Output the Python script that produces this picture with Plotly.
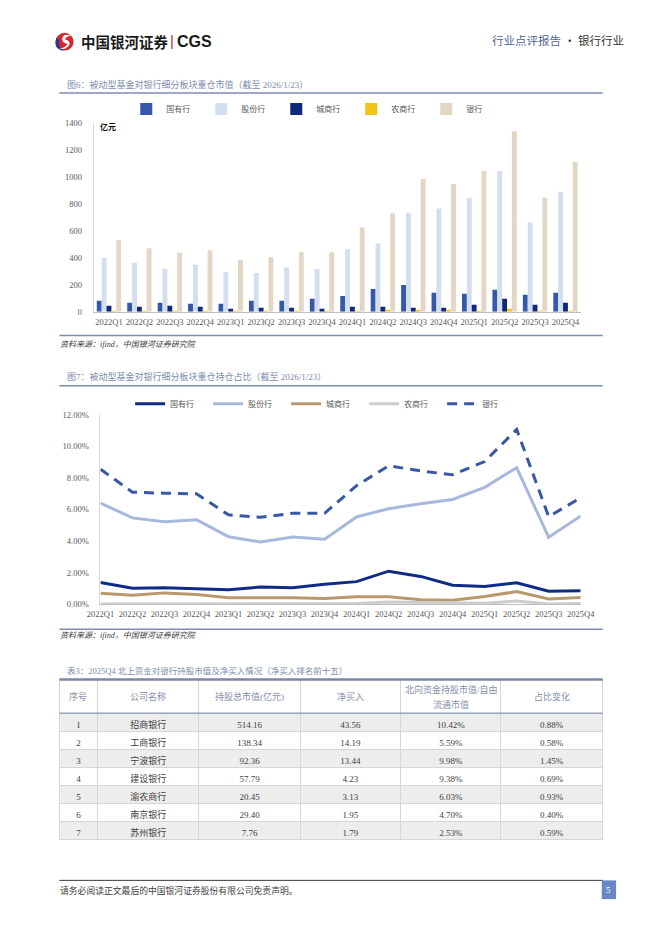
import plotly.graph_objects as go

# figure is sized to fit inside the 662x936 window together with the page margin
FW, FH = 646, 910
def X(sx): return (sx - 8) / FW
def Y(sy): return 1 - (sy - 8) / FH

# ---------------- data ----------------
quarters = ['2022Q1', '2022Q2', '2022Q3', '2022Q4', '2023Q1', '2023Q2', '2023Q3', '2023Q4',
            '2024Q1', '2024Q2', '2024Q3', '2024Q4', '2025Q1', '2025Q2', '2025Q3', '2025Q4']

# 图6 重仓市值（亿元）
mv_guoyou = [81, 66, 66, 59, 59, 81, 81, 95, 117, 169, 198, 140, 132, 162, 125, 140]
mv_gufen = [397, 362, 318, 348, 294, 286, 330, 316, 463, 507, 734, 764, 845, 1043, 661, 889]
mv_chengshang = [44, 37, 44, 37, 22, 29, 29, 22, 37, 37, 29, 29, 51, 95, 51, 66]
mv_nongshang = [2, 2, 2, 2, 2, 2, 2, 2, 4, 10, 10, 7, 5, 22, 2, 5]
mv_yinhang = [529, 470, 436, 455, 382, 404, 440, 440, 624, 730, 984, 947, 1043, 1337, 845, 1109]

# 图7 重仓持仓占比（%）
pct_guoyou = [1.39, 1.02, 1.06, 1.00, 0.92, 1.10, 1.06, 1.27, 1.44, 2.10, 1.77, 1.21, 1.14, 1.37, 0.83, 0.87]
pct_gufen = [6.41, 5.47, 5.22, 5.35, 4.28, 3.95, 4.26, 4.12, 5.53, 6.05, 6.36, 6.63, 7.40, 8.65, 4.24, 5.59]
pct_chengshang = [0.71, 0.58, 0.73, 0.62, 0.42, 0.44, 0.42, 0.37, 0.48, 0.48, 0.29, 0.27, 0.50, 0.81, 0.35, 0.44]
pct_nongshang = [0.03, 0.03, 0.04, 0.04, 0.03, 0.03, 0.04, 0.03, 0.06, 0.15, 0.12, 0.10, 0.08, 0.21, 0.03, 0.06]
pct_yinhang = [8.55, 7.09, 7.03, 6.99, 5.66, 5.51, 5.76, 5.76, 7.51, 8.76, 8.44, 8.19, 9.03, 11.06, 5.55, 6.74]

bar_ticks = [0, 200, 400, 600, 800, 1000, 1200, 1400]
pct_ticks = [0, 2, 4, 6, 8, 10, 12]
pct_ticktext = [f'{v:.2f}%' for v in pct_ticks]

# 表3
tbl_headers = ['序号', '公司名称', '持股总市值(亿元)', '净买入', '北向资金持股市值/自由', '占比变化']
tbl_header_line2 = ['', '', '', '', '流通市值', '']
tbl_no = ['1', '2', '3', '4', '5', '6', '7']
tbl_name = ['招商银行', '工商银行', '宁波银行', '建设银行', '渝农商行', '南京银行', '苏州银行']
tbl_mv = ['514.16', '138.34', '92.36', '57.79', '20.45', '29.40', '7.76']
tbl_net = ['43.56', '14.19', '13.44', '4.23', '3.13', '1.95', '1.79']
tbl_ratio = ['10.42%', '5.59%', '9.98%', '9.38%', '6.03%', '4.70%', '2.53%']
tbl_chg = ['0.88%', '0.58%', '1.45%', '0.69%', '0.93%', '0.40%', '0.59%']

# ---------------- style ----------------
FONT = 'Liberation Serif, Noto Sans CJK SC'
CJK = 'Noto Sans CJK SC'
SLATE = '#7C8CAE'
TXT = '#404040'
col_edges = [47, 87, 193, 299, 404, 509, 615]

fig = go.Figure()

bar_specs = [('国有行', mv_guoyou, '#3558A8'), ('股份行', mv_gufen, '#D3DEEF'),
             ('城商行', mv_chengshang, '#10297A'), ('农商行', mv_nongshang, '#F2C31A'),
             ('银行', mv_yinhang, '#E3D6C4')]
for name, vals, col in bar_specs:
    fig.add_trace(go.Bar(x=quarters, y=vals, name=name, marker_color=col,
                         marker_line_width=0, xaxis='x', yaxis='y', legend='legend'))

line_specs = [('国有行', pct_guoyou, '#0E2C85', 'solid'), ('股份行', pct_gufen, '#A8B8DD', 'solid'),
              ('城商行', pct_chengshang, '#B8996B', 'solid'), ('农商行', pct_nongshang, '#CDCDCD', 'solid'),
              ('银行', pct_yinhang, '#3858A6', '10px,7px')]
for name, vals, col, dash in line_specs:
    fig.add_trace(go.Scatter(x=quarters, y=vals, name=name, mode='lines',
                             line=dict(color=col, width=3, dash=dash),
                             xaxis='x2', yaxis='y2', legend='legend2'))

n = len(tbl_no)
row_fill = ['#EDEDED' if i % 2 == 0 else '#FFFFFF' for i in range(n)]
widths = [col_edges[i + 1] - col_edges[i] for i in range(6)]
fig.add_trace(go.Table(
    domain=dict(x=[X(col_edges[0]), X(col_edges[-1])], y=[Y(870), Y(682)]),
    columnwidth=widths,
    header=dict(values=[''] * 6, height=34, fill_color='white',
                line=dict(color='#D6D6D6', width=1)),
    cells=dict(values=[tbl_no, tbl_name, tbl_mv, tbl_net, tbl_ratio, tbl_chg],
               height=18, align='center',
               fill_color=[row_fill] * 6, line=dict(color='#D6D6D6', width=1),
               font=dict(family=FONT, size=9, color=TXT))))

axis_font = dict(family=FONT, size=8.5, color='#595959')
fig.update_layout(
    width=FW, height=FH, margin=dict(l=0, r=0, t=0, b=0),
    paper_bgcolor='white', plot_bgcolor='white',
    font=dict(family=FONT, color=TXT),
    barmode='group', bargap=0.2, bargroupgap=0,
    showlegend=True,
    xaxis=dict(domain=[X(83), X(592)], anchor='y', showgrid=False, showline=True,
               linecolor='#BFBFBF', linewidth=1, ticks='', tickfont=axis_font,
               ticklabelstandoff=2, fixedrange=True),
    yaxis=dict(domain=[Y(310), Y(119)], anchor='x', range=[0, 1400], tickvals=bar_ticks,
               showgrid=False, showline=True, linecolor='#D9D9D9', linewidth=1,
               zeroline=False, ticks='', tickfont=axis_font, ticklabelstandoff=9),
    xaxis2=dict(domain=[X(90), X(592)], anchor='y2', showgrid=False, showline=True,
                linecolor='#BFBFBF', linewidth=1, ticks='', tickfont=axis_font,
                ticklabelstandoff=1),
    yaxis2=dict(domain=[Y(606), Y(414)], anchor='x2', range=[0, 12], tickvals=pct_ticks,
                ticktext=pct_ticktext, showgrid=False, showline=True,
                linecolor='#D9D9D9', linewidth=1, zeroline=False, ticks='',
                tickfont=axis_font, ticklabelstandoff=9),
    legend=dict(orientation='h', x=X(117), y=Y(105), xanchor='left', yanchor='middle',
                font=dict(family=CJK, size=8, color='#595959'), itemwidth=30,
                entrywidth=30, entrywidthmode='pixels', bgcolor='rgba(0,0,0,0)',
                traceorder='normal', itemclick=False),
    legend2=dict(orientation='h', x=X(121), y=Y(403), xanchor='left', yanchor='middle',
                 font=dict(family=CJK, size=8, color='#595959'), itemwidth=30,
                 entrywidth=33, entrywidthmode='pixels', bgcolor='rgba(0,0,0,0)',
                 traceorder='normal', itemclick=False),
)

shapes = []
def hline(y, x0, x1, color, width):
    shapes.append(dict(type='line', xref='paper', yref='paper', x0=X(x0), x1=X(x1),
                       y0=Y(y), y1=Y(y), line=dict(color=color, width=width)))

hline(89, 47, 615, SLATE, 1.5)
hline(334, 47, 615, SLATE, 1.5)
hline(385, 47, 615, SLATE, 1.5)
hline(631, 47, 615, SLATE, 1.5)
hline(682, 47, 615, '#7A88A6', 2.5)
hline(716, 47, 615, '#8C98B2', 1.2)
hline(885, 47, 615, '#3A3A3A', 1)

# page number box
shapes.append(dict(type='rect', xref='paper', yref='paper', x0=X(614), x1=X(629),
                   y0=Y(904), y1=Y(885), fillcolor='#6C88C4', line=dict(width=0)))
# logo
shapes.append(dict(type='circle', xref='paper', yref='paper', x0=X(43), x1=X(62),
                   y0=Y(46), y1=Y(28), fillcolor='#D7262C', line=dict(width=0)))
def P(x, y): return f'{X(x)} {Y(y)}'
shapes.append(dict(type='path', xref='paper', yref='paper',
                   path=f'M {P(44,33)} Q {P(40,45)} {P(52,46)} Q {P(45,42)} {P(47,35)} Z',
                   fillcolor='#1F3F95', line=dict(width=0)))
shapes.append(dict(type='path', xref='paper', yref='paper',
                   path=f'M {P(60,31)} Q {P(50,28)} {P(50,35)} Q {P(51,39)} {P(56,39)} Q {P(52,44)} {P(46,44)} '
                        f'Q {P(55,46)} {P(58,39)} Q {P(57,35)} {P(53,35)} Q {P(54,31)} {P(60,31)} Z',
                   fillcolor='white', line=dict(width=0)))
fig.update_layout(shapes=shapes)

ann = []
def text(x, y, s, size, color=TXT, family=FONT, xanchor='left', bold=False, italic=False):
    if bold:
        s = f'<b>{s}</b>'
    if italic:
        s = f'<i>{s}</i>'
    ann.append(dict(x=X(x), y=Y(y), xref='paper', yref='paper', text=s, showarrow=False,
                    xanchor=xanchor, yanchor='middle', borderpad=0,
                    font=dict(size=size, color=color, family=family)))

text(69, 37, '中国银河证券', 14.5, '#1A1A1A', CJK, bold=True)
text(162, 36, '|', 15, '#D7262C', 'Liberation Sans')
text(169, 37, 'CGS', 16, '#1A1A1A', 'Liberation Sans', bold=True)
text(498, 35, '行业点评报告', 11.5, '#4F6696', CJK)
text(573, 35, '· 银行行业', 11.5, '#333333', CJK)

text(54, 80, '图6：被动型基金对银行细分板块重仓市值（截至 2026/1/23）', 9, '#7C8CAE')
text(88, 123, '亿元', 8, '#111111', CJK, bold=True)
text(47, 343, '资料来源：ifind，中国银河证券研究院', 8, TXT, italic=True)
text(54, 376, '图7：被动型基金对银行细分板块重仓持仓占比（截至 2026/1/23）', 9, '#7C8CAE')
text(47, 637, '资料来源：ifind，中国银河证券研究院', 8, TXT, italic=True)
text(54, 673, '表3：2025Q4 北上资金对银行持股市值及净买入情况（净买入排名前十五）', 8.5, '#7C8CAE')
text(47, 895, '请务必阅读正文最后的中国银河证券股份有限公司免责声明。', 8.8, TXT)
text(621.5, 894.5, '5', 9, 'white', xanchor='center')

for i in range(6):
    cx = (col_edges[i] + col_edges[i + 1]) / 2
    if tbl_header_line2[i]:
        text(cx, 692, tbl_headers[i], 9, '#8490AA', FONT, xanchor='center')
        text(cx, 707, tbl_header_line2[i], 9, '#8490AA', FONT, xanchor='center')
    else:
        text(cx, 699, tbl_headers[i], 9, '#8490AA', FONT, xanchor='center')
fig.update_layout(annotations=ann)

fig.write_html('out.html')
